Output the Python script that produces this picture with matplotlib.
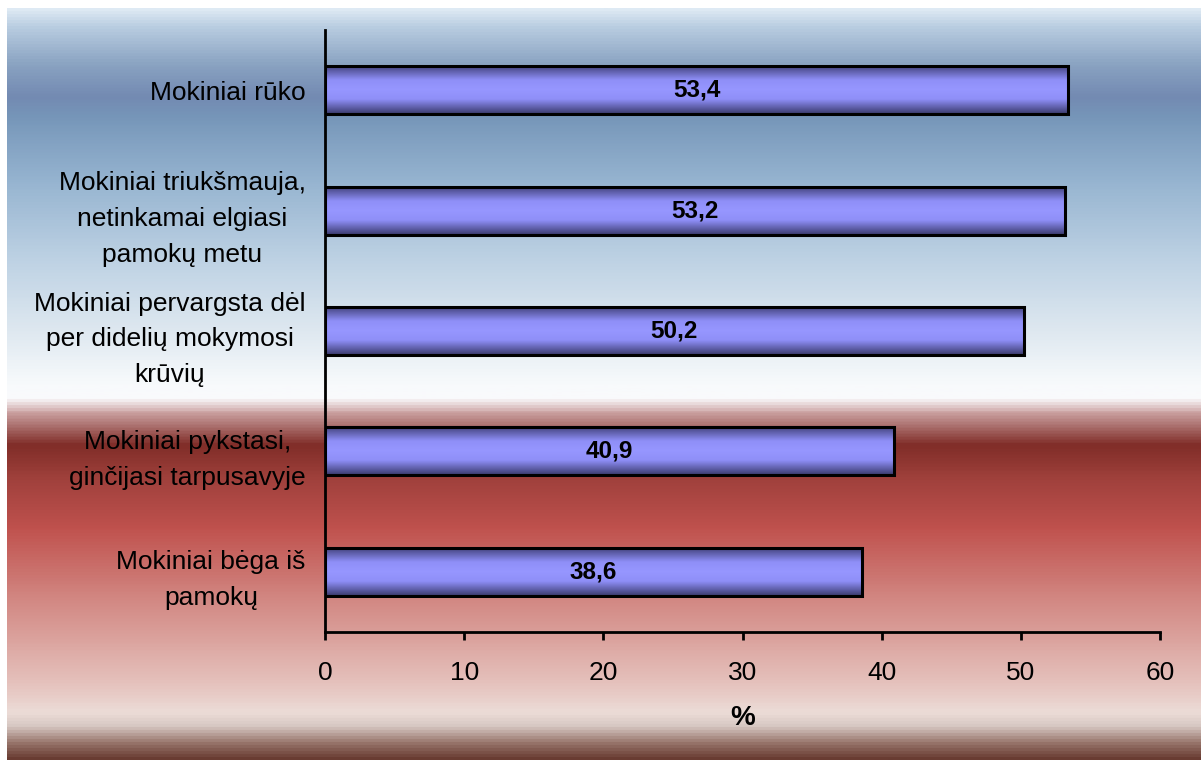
import numpy as np
import matplotlib
matplotlib.use("Agg")
import matplotlib.pyplot as plt
from matplotlib.colors import LinearSegmentedColormap

plt.rcParams['font.family'] = ['Liberation Sans', 'DejaVu Sans']

# data
categories = [
    "Mokiniai rūko",
    "Mokiniai triukšmauja,\nnetinkamai elgiasi\npamokų metu",
    "Mokiniai pervargsta dėl\nper didelių mokymosi\nkrūvių",
    "Mokiniai pykstasi,\nginčijasi tarpusavyje",
    "Mokiniai bėga iš\npamokų",
]
values = [53.4, 53.2, 50.2, 40.9, 38.6]
value_labels = ["53,4", "53,2", "50,2", "40,9", "38,6"]
xticks = [0, 10, 20, 30, 40, 50, 60]

W, H = 1201, 760
fig = plt.figure(figsize=(W / 100, H / 100), dpi=100)
fig.patch.set_facecolor("white")

# background gradient (pixel row -> colour)
bg_stops = [
    (8, (222, 234, 244)), (25, (185, 205, 225)), (60, (140, 165, 195)),
    (95, (115, 138, 178)), (115, (118, 150, 185)), (180, (150, 180, 208)),
    (260, (190, 210, 228)), (330, (222, 232, 240)), (385, (248, 250, 252)),
    (398, (250, 250, 252)), (412, (205, 165, 165)), (445, (128, 45, 40)),
    (480, (160, 65, 60)), (530, (192, 82, 78)), (600, (210, 135, 130)),
    (680, (228, 190, 185)), (715, (236, 220, 215)), (728, (215, 200, 195)),
    (745, (150, 115, 105)), (760, (105, 60, 50)),
]
y0, y1 = bg_stops[0][0], bg_stops[-1][0]
bg_cmap = LinearSegmentedColormap.from_list(
    "bg", [((p - y0) / (y1 - y0), tuple(c / 255 for c in col)) for p, col in bg_stops])
bg = fig.add_axes([7 / W, 0, 1 - 7 / W, (H - 8) / H])
bg.imshow(np.linspace(0, 1, 500).reshape(-1, 1), cmap=bg_cmap, aspect="auto")
bg.axis("off")

# main axes
ax = fig.add_axes([325 / W, 1 - 632 / H, (1160 - 325) / W, (632 - 30) / H])
ax.set_facecolor("none")

bar_cmap = LinearSegmentedColormap.from_list("bar", [
    (0.0, (0.25, 0.25, 0.47)), (0.3, (0.56, 0.56, 0.97)), (0.5, (0.59, 0.59, 1.0)),
    (0.7, (0.56, 0.56, 0.97)), (1.0, (0.23, 0.23, 0.43))])
grad = np.linspace(0, 1, 100).reshape(-1, 1)

ypos = np.arange(len(categories))
bar_h = 0.4
bars = ax.barh(ypos, values, height=bar_h, color="none", edgecolor="black",
               linewidth=2.2, zorder=3)
for b, v, yp, lab in zip(bars, values, ypos, value_labels):
    im = ax.imshow(grad, cmap=bar_cmap, aspect="auto", zorder=2,
                   extent=[0, v, yp + bar_h / 2, yp - bar_h / 2])
    im.set_clip_path(b)
    ax.text(v / 2, yp, lab, ha="center", va="center", fontsize=17.5,
            fontweight="bold", zorder=4)

ax.set_xlim(0, 60)
ax.set_ylim(len(categories) - 0.5, -0.5)
ax.set_xticks(xticks)
ax.set_xticklabels([str(t) for t in xticks])
ax.set_yticks(ypos)
ax.set_yticklabels(categories, multialignment="center", linespacing=1.62)
ax.tick_params(axis="y", length=0, pad=14, labelsize=19)
ax.tick_params(axis="x", direction="out", length=6, width=2, pad=15, labelsize=19)
ax.set_xlabel("%", fontsize=20, fontweight="bold", labelpad=14)

for s in ["top", "right"]:
    ax.spines[s].set_visible(False)
for s in ["left", "bottom"]:
    ax.spines[s].set_linewidth(2)

fig.savefig("out.png", dpi=100)
